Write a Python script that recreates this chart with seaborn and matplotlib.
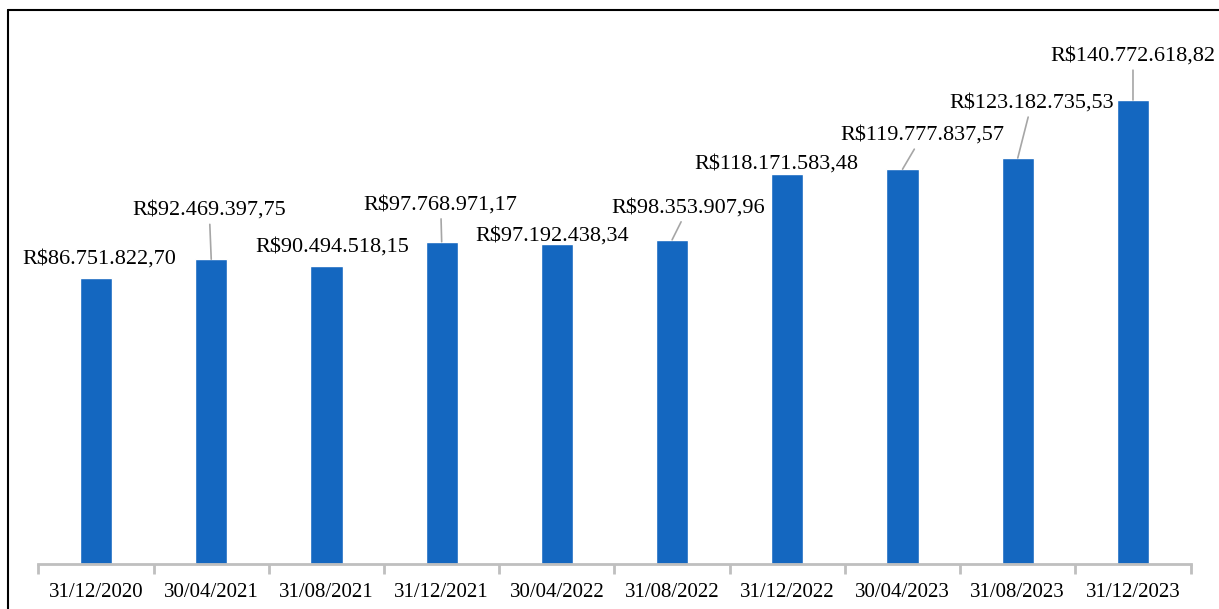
import matplotlib
matplotlib.use("Agg")
import matplotlib.pyplot as plt
from matplotlib.lines import Line2D
import numpy as np
import pandas as pd
import seaborn as sns

datas = ["31/12/2020", "30/04/2021", "31/08/2021", "31/12/2021", "30/04/2022",
         "31/08/2022", "31/12/2022", "30/04/2023", "31/08/2023", "31/12/2023"]
valores = [86751822.70, 92469397.75, 90494518.15, 97768971.17, 97192438.34,
           98353907.96, 118171583.48, 119777837.57, 123182735.53, 140772618.82]
rotulos = ["R$86.751.822,70", "R$92.469.397,75", "R$90.494.518,15", "R$97.768.971,17",
           "R$97.192.438,34", "R$98.353.907,96", "R$118.171.583,48", "R$119.777.837,57",
           "R$123.182.735,53", "R$140.772.618,82"]

# label offsets (pixels from bar top) and whether a leader line is drawn
offsets = [(3, 19), (-2, 49), (6, 19), (-1, 37), (-5, 8),
           (16, 32), (-11, 10), (20, 34), (14, 55), (0, 44)]
leader = [False, True, False, True, False, True, False, True, True, True]

df = pd.DataFrame({"data": datas, "valor": valores})

sns.set_style("white")
plt.rcParams["font.family"] = ["Liberation Serif", "DejaVu Serif"]
plt.rcParams["text.color"] = "black"

fig = plt.figure(figsize=(12.19, 6.09), dpi=100)
ax = fig.add_axes([0.0315, 0.0739, 0.9452, 0.866])

sns.barplot(data=df, x="data", y="valor", color="#1467c0", width=0.28,
            saturation=1, ax=ax)

ax.set_ylim(0, 160e6)
ax.set_xlim(-0.5, len(datas) - 0.5)
ax.set_xlabel("")
ax.set_ylabel("")
ax.set_yticks([])
for s in ["left", "right", "top"]:
    ax.spines[s].set_visible(False)
ax.spines["bottom"].set_color("#bfbfbf")
ax.spines["bottom"].set_linewidth(2)

ax.set_xticks(np.arange(-0.5, len(datas), 1), minor=True)
ax.tick_params(axis="x", which="major", bottom=True, length=0, pad=14,
               labelsize=15, labelcolor="black")
ax.tick_params(axis="x", which="minor", bottom=True, length=7, width=2,
               color="#bfbfbf", direction="out")

for i, (v, txt) in enumerate(zip(valores, rotulos)):
    dx, dy = offsets[i]
    props = dict(arrowstyle="-", color="#a6a6a6", lw=1.2, shrinkA=1, shrinkB=0) if leader[i] else None
    ax.annotate(txt, xy=(i, v), xytext=(dx, dy), textcoords="offset pixels",
                ha="center", va="center", fontsize=16, color="black", arrowprops=props)

# outer chart frame (partly cut off at right and bottom)
x0 = 8 / 1219
y0 = 1 - 10 / 609
fig.add_artist(Line2D([x0, x0], [0, y0], color="black", lw=1.5, transform=fig.transFigure))
fig.add_artist(Line2D([x0, 1], [y0, y0], color="black", lw=1.5, transform=fig.transFigure))

fig.savefig("out.png", dpi=100)
